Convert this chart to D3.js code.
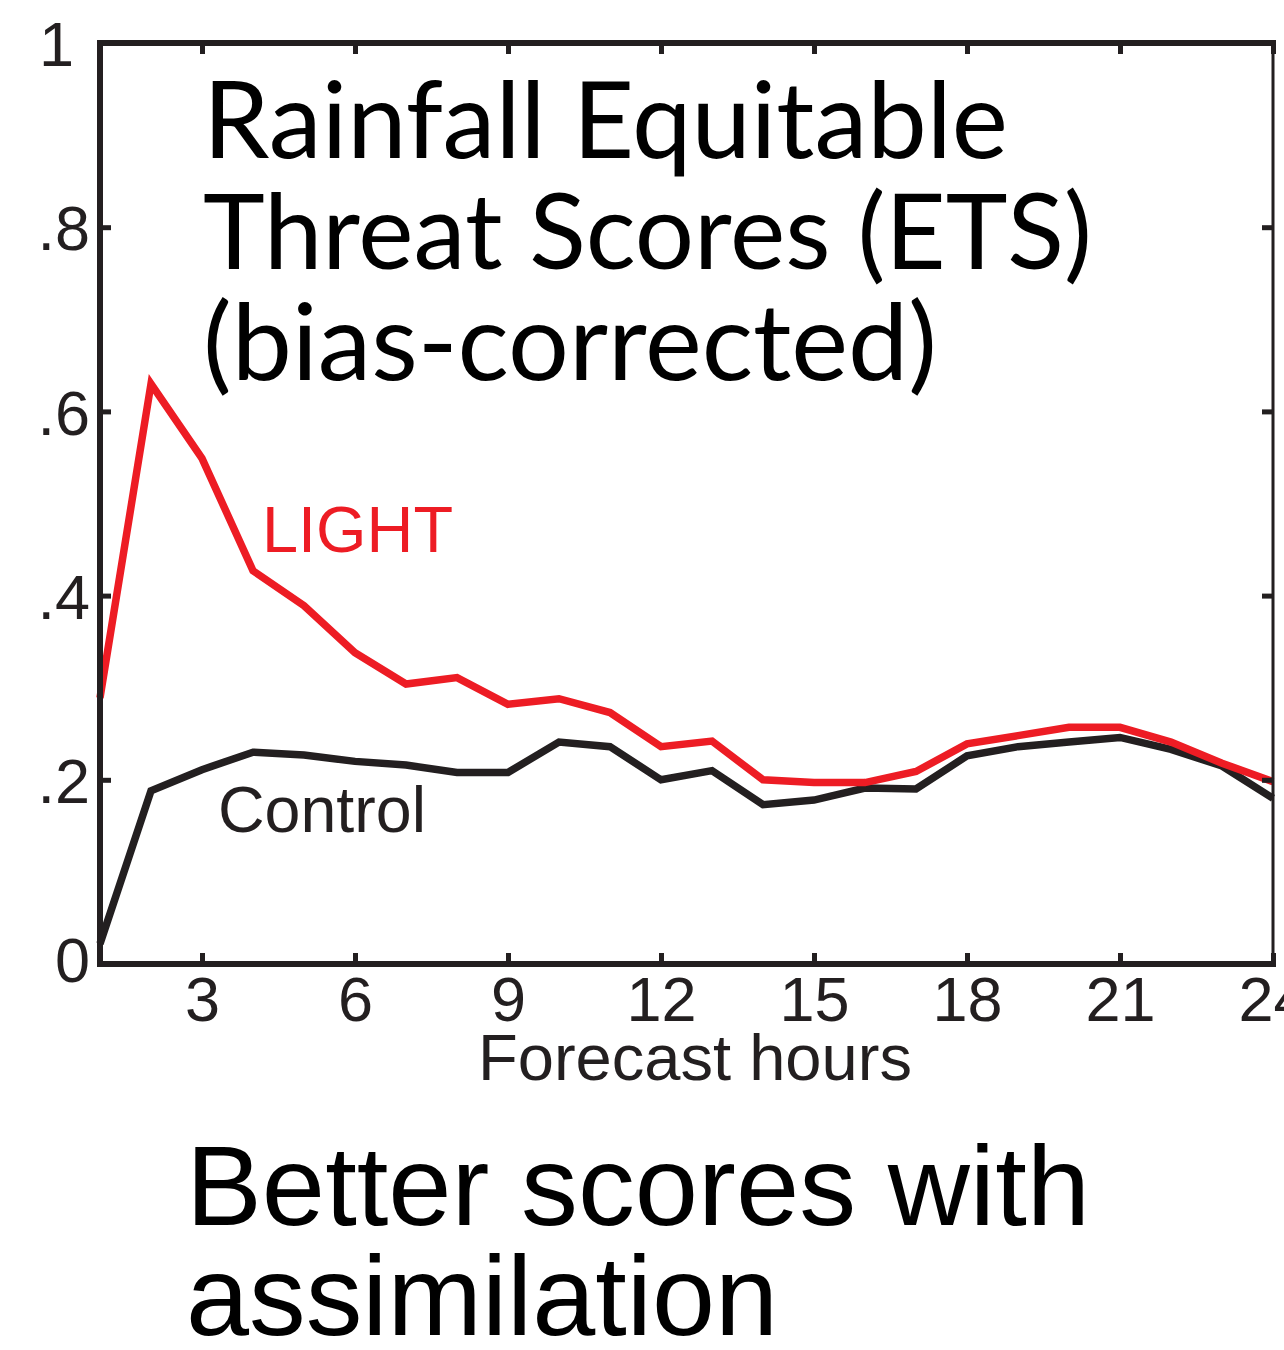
<!DOCTYPE html>
<html>
<head>
<meta charset="utf-8">
<script src="https://cdn.jsdelivr.net/npm/d3@7"></script>
<style>
  html, body { margin: 0; padding: 0; background: #fff; }
  svg { display: block; }
</style>
</head>
<body>
<svg id="chart" width="1284" height="1350"></svg>
<script>
const hours = d3.range(1, 25);
const lightETS = [0.289, 0.630, 0.549, 0.427, 0.389, 0.338, 0.304, 0.311, 0.282, 0.288, 0.273, 0.236,
                  0.242, 0.200, 0.197, 0.197, 0.209, 0.239, 0.248, 0.257, 0.257, 0.241, 0.218, 0.198];
const controlETS = [0.022, 0.188, 0.211, 0.230, 0.227, 0.220, 0.216, 0.208, 0.208, 0.241, 0.236, 0.200,
                    0.210, 0.173, 0.178, 0.191, 0.190, 0.226, 0.236, 0.241, 0.246, 0.233, 0.215, 0.180];
const xTicks = [3, 6, 9, 12, 15, 18, 21, 24];
const yTicks = [0, 0.2, 0.4, 0.6, 0.8, 1];
const yTickLabels = ["0", ".2", ".4", ".6", ".8", "1"];
const titleLines = ["Rainfall Equitable", "Threat Scores (ETS)", "(bias-corrected)"];
const footLines = ["Better scores with", "assimilation"];

(function () {
const BLACK = "#231f20", RED = "#ed1c24";
const svg = d3.select("#chart");
const mLeft = 100, mRight = 1273, mTop = 43, mBottom = 964;
const x = d3.scaleLinear().domain([1, 24]).range([mLeft, mRight]);
const y = d3.scaleLinear().domain([0, 1]).range([mBottom, mTop]);

function fitText(sel, targetWidth) {
  const node = sel.node();
  let fs = parseFloat(sel.attr("font-size"));
  for (let i = 0; i < 3; i++) {
    const w = node.getComputedTextLength();
    fs = fs * targetWidth / w;
    sel.attr("font-size", fs);
  }
}

// Lines
const line = d3.line().x((d, i) => x(hours[i])).y(d => y(d));
svg.append("path").datum(controlETS).attr("d", line)
  .attr("fill", "none").attr("stroke", BLACK).attr("stroke-width", 7.5).attr("stroke-linejoin", "miter");
svg.append("path").datum(lightETS).attr("d", line)
  .attr("fill", "none").attr("stroke", RED).attr("stroke-width", 7.5).attr("stroke-linejoin", "miter");

// Axes ticks (inside)
const axFont = "'Liberation Sans', Arial, sans-serif";
const gx = svg.append("g").attr("transform", `translate(0,${mBottom})`)
  .call(d3.axisBottom(x).tickValues(xTicks).tickSizeInner(-11).tickSizeOuter(0).tickPadding(12));
gx.select(".domain").remove();
gx.selectAll("line").attr("stroke", BLACK).attr("stroke-width", 5);
gx.selectAll("text").attr("font-family", axFont).attr("font-size", 63).attr("fill", BLACK).attr("dy", "0.71em");

const gxt = svg.append("g").attr("transform", `translate(0,${mTop})`)
  .call(d3.axisTop(x).tickValues(xTicks).tickSizeInner(-11).tickSizeOuter(0).tickFormat(""));
gxt.select(".domain").remove();
gxt.selectAll("line").attr("stroke", BLACK).attr("stroke-width", 5);

const gy = svg.append("g").attr("transform", `translate(${mLeft},0)`)
  .call(d3.axisLeft(y).tickValues(yTicks).tickSizeInner(-11).tickSizeOuter(0)
    .tickFormat((d, i) => yTickLabels[i]).tickPadding(10));
gy.select(".domain").remove();
gy.selectAll("line").attr("stroke", BLACK).attr("stroke-width", 5);
gy.selectAll("text").attr("font-family", axFont).attr("font-size", 63).attr("fill", BLACK)
  .attr("dy", "0.36em")
  .attr("dx", d => d === 1 ? -16 : 0)
  .attr("transform", d => d === 0 ? "translate(0,-5)" : null);

const gyr = svg.append("g").attr("transform", `translate(${mRight},0)`)
  .call(d3.axisRight(y).tickValues(yTicks).tickSizeInner(-11).tickSizeOuter(0).tickFormat(""));
gyr.select(".domain").remove();
gyr.selectAll("line").attr("stroke", BLACK).attr("stroke-width", 5);

// Frame
svg.append("path").attr("d", `M${mLeft},${mBottom} L${mLeft},${mTop} L${mRight},${mTop}`)
  .attr("fill", "none").attr("stroke", BLACK).attr("stroke-width", 6).attr("stroke-linecap", "square");
svg.append("line").attr("x1", mLeft).attr("x2", mRight).attr("y1", mBottom).attr("y2", mBottom)
  .attr("stroke", BLACK).attr("stroke-width", 6).attr("stroke-linecap", "square");
svg.append("line").attr("x1", mRight).attr("x2", mRight).attr("y1", mTop).attr("y2", mBottom)
  .attr("stroke", BLACK).attr("stroke-width", 3);

// X axis title
const xt = svg.append("text").attr("x", 478).attr("y", 1080)
  .attr("font-family", axFont).attr("font-size", 58).attr("fill", BLACK).text("Forecast hours");
fitText(xt, 434);

// Series labels
const lt = svg.append("text").attr("x", 262).attr("y", 552)
  .attr("font-family", axFont).attr("font-size", 64).attr("fill", RED).text("LIGHT");
fitText(lt, 191);
const ct = svg.append("text").attr("x", 218).attr("y", 832)
  .attr("font-family", axFont).attr("font-size", 62).attr("fill", BLACK).text("Control");
fitText(ct, 208);

// Title in chart
const titleFont = "Lato, 'Open Sans', sans-serif";
const titleWidths = [805, 889, 734];
const titleBase = [158, 269, 380];
titleLines.forEach((t, i) => {
  const s = svg.append("text").attr("x", 203).attr("y", titleBase[i])
    .attr("font-family", titleFont).attr("font-size", 95).attr("fill", "#000").text(t);
  fitText(s, titleWidths[i]);
});

// Footer text
const footWidths = [904, 592];
const footBase = [1225, 1335];
footLines.forEach((t, i) => {
  const s = svg.append("text").attr("x", 186).attr("y", footBase[i])
    .attr("font-family", axFont).attr("font-size", 107).attr("fill", "#000").text(t);
  fitText(s, footWidths[i]);
});
})();
</script>
</body>
</html>
